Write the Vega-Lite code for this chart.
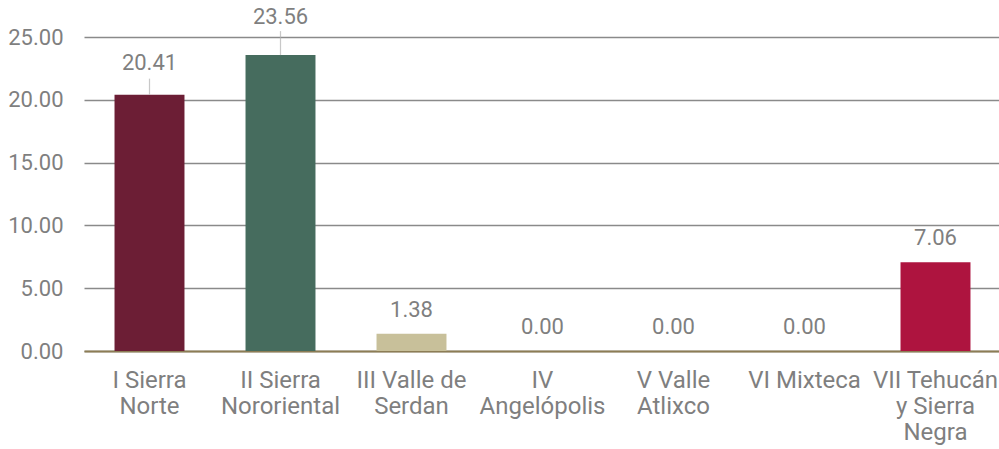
{
  "$schema": "https://vega.github.io/schema/vega-lite/v6.json",
  "width": 917,
  "height": 314,
  "autosize": {"type": "none"},
  "padding": {"left": 84, "top": 37, "right": 0, "bottom": 98},
  "background": "white",
  "config": {
    "view": {"stroke": null},
    "font": "Roboto",
    "axis": {"labelFont": "Roboto", "labelColor": "#7f7f7f"}
  },
  "data": {
    "values": [
      {"region": "I Sierra Norte", "value": 20.41},
      {"region": "II Sierra Nororiental", "value": 23.56},
      {"region": "III Valle de Serdan", "value": 1.38},
      {"region": "IV Angelópolis", "value": 0.0},
      {"region": "V Valle Atlixco", "value": 0.0},
      {"region": "VI Mixteca", "value": 0.0},
      {"region": "VII Tehucán y Sierra Negra", "value": 7.06}
    ]
  },
  "encoding": {
    "x": {
      "field": "region",
      "type": "nominal",
      "sort": null,
      "scale": {"paddingInner": 0.466, "paddingOuter": 0.233},
      "axis": {
        "title": null,
        "labelAngle": 0,
        "ticks": false,
        "domain": true,
        "domainColor": "#8c7d55",
        "domainWidth": 2,
        "labelFontSize": 24,
        "labelPadding": 17,
        "labelLineHeight": 26,
        "labelLimit": 300,
        "labelExpr": "({'I Sierra Norte':['I Sierra','Norte'],'II Sierra Nororiental':['II Sierra','Nororiental'],'III Valle de Serdan':['III Valle de','Serdan'],'IV Angelópolis':['IV','Angelópolis'],'V Valle Atlixco':['V Valle','Atlixco'],'VI Mixteca':['VI Mixteca'],'VII Tehucán y Sierra Negra':['VII Tehucán','y Sierra','Negra']})[datum.label]"
      }
    },
    "y": {
      "field": "value",
      "type": "quantitative",
      "scale": {"domain": [0, 25]},
      "axis": {
        "title": null,
        "values": [0, 5, 10, 15, 20, 25],
        "format": ".2f",
        "domain": false,
        "ticks": false,
        "grid": true,
        "gridColor": "#8a8a8a",
        "gridWidth": 1.5,
        "labelFontSize": 22,
        "labelPadding": 21
      }
    }
  },
  "layer": [
    {
      "mark": {"type": "bar", "clip": false},
      "encoding": {
        "color": {
          "field": "region",
          "type": "nominal",
          "sort": null,
          "legend": null,
          "scale": {
            "domain": ["I Sierra Norte", "II Sierra Nororiental", "III Valle de Serdan", "IV Angelópolis", "V Valle Atlixco", "VI Mixteca", "VII Tehucán y Sierra Negra"],
            "range": ["#6c1e35", "#466c5e", "#c8c09a", "#c8c09a", "#c8c09a", "#c8c09a", "#ae143f"]
          }
        }
      }
    },
    {
      "transform": [{"filter": "datum.value > 10 && datum.value < 22"}],
      "mark": {"type": "tick", "orient": "vertical", "size": 16, "thickness": 1.2, "color": "#b0b0b0", "yOffset": -8}
    },
    {
      "transform": [{"filter": "datum.value >= 22"}],
      "mark": {"type": "tick", "orient": "vertical", "size": 24, "thickness": 1.2, "color": "#b0b0b0", "yOffset": -12}
    },
    {
      "transform": [{"filter": "datum.value <= 10"}],
      "mark": {"type": "text", "baseline": "alphabetic", "dy": -17, "fontSize": 22, "color": "#7f7f7f", "font": "Roboto"},
      "encoding": {"text": {"field": "value", "type": "quantitative", "format": ".2f"}}
    },
    {
      "transform": [{"filter": "datum.value > 10 && datum.value < 22"}],
      "mark": {"type": "text", "baseline": "alphabetic", "dy": -25, "fontSize": 22, "color": "#7f7f7f", "font": "Roboto"},
      "encoding": {"text": {"field": "value", "type": "quantitative", "format": ".2f"}}
    },
    {
      "transform": [{"filter": "datum.value >= 22"}],
      "mark": {"type": "text", "baseline": "alphabetic", "dy": -31, "fontSize": 22, "color": "#7f7f7f", "font": "Roboto"},
      "encoding": {"text": {"field": "value", "type": "quantitative", "format": ".2f"}}
    }
  ]
}
